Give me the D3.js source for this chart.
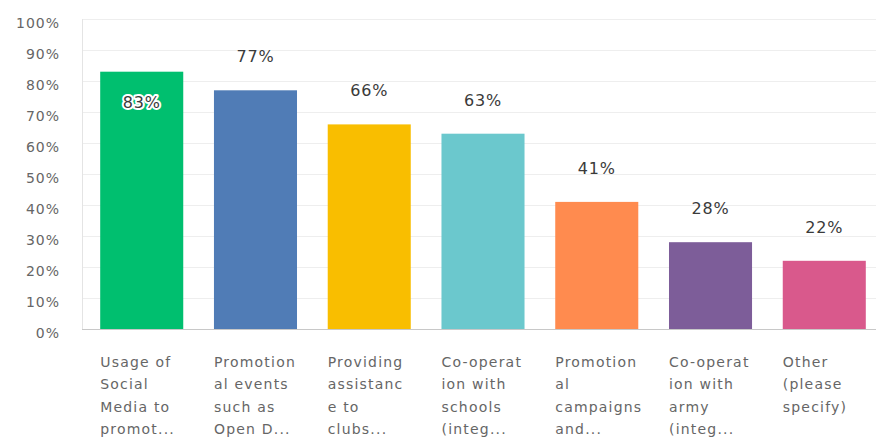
<!DOCTYPE html>
<html>
<head>
<meta charset="utf-8">
<script src="https://cdn.jsdelivr.net/npm/d3@7"></script>
<style>
  html, body { margin: 0; padding: 0; background: #fff; }
  svg { display: block; font-family: "DejaVu Sans", sans-serif; }
</style>
</head>
<body>
<svg id="chart" width="876" height="439"></svg>
<script>
// Answer choices (pre-wrapped, truncated as in the survey export)
const categories = [
  ["Usage of", "Social", "Media to", "promot..."],
  ["Promotion", "al events", "such as", "Open D..."],
  ["Providing", "assistanc", "e to", "clubs..."],
  ["Co-operat", "ion with", "schools", "(integ..."],
  ["Promotion", "al", "campaigns", "and..."],
  ["Co-operat", "ion with", "army", "(integ..."],
  ["Other", "(please", "specify)"]
];
const values = [83, 77, 66, 63, 41, 28, 22];
const colors = ["#00BF6F", "#507CB6", "#F9BE00", "#6BC8CD", "#FF8B4F", "#7D5D99", "#D9598C"];
const yTicks = [0, 10, 20, 30, 40, 50, 60, 70, 80, 90, 100];

const svg = d3.select("#chart");
const plotLeft = 82, plotRight = 884, plotTop = 19, plotBottom = 329;

const x = d3.scaleBand()
  .domain(d3.range(values.length))
  .range([plotLeft, plotRight])
  .paddingInner(0.27)
  .paddingOuter(0.16);

const y = d3.scaleLinear().domain([0, 100]).range([plotBottom, plotTop]);

// Horizontal gridlines
svg.append("g")
  .selectAll("line")
  .data(yTicks.filter(t => t > 0))
  .join("line")
  .attr("x1", plotLeft).attr("x2", 876)
  .attr("y1", d => y(d) + 0.5).attr("y2", d => y(d) + 0.5)
  .attr("stroke", "#eeeeee")
  .attr("stroke-width", 1);

// Left axis line
svg.append("line")
  .attr("x1", plotLeft + 0.5).attr("x2", plotLeft + 0.5)
  .attr("y1", plotTop).attr("y2", plotBottom)
  .attr("stroke", "#e4e4e4");

// Y tick labels
const yAxis = d3.axisLeft(y)
  .tickValues(yTicks)
  .tickFormat(d => d + "%")
  .tickSize(0)
  .tickPadding(0);

const yg = svg.append("g")
  .attr("transform", `translate(60,0)`)
  .call(yAxis);
yg.select(".domain").remove();
yg.selectAll("text")
  .attr("dy", "0.62em")
  .attr("fill", "#666666")
  .style("font-size", "14px")
  .style("letter-spacing", "1px")
  .style("font-family", "DejaVu Sans, sans-serif");

// Bars
svg.append("g")
  .selectAll("rect")
  .data(values)
  .join("rect")
  .attr("x", (d, i) => x(i))
  .attr("width", x.bandwidth())
  .attr("y", d => y(d))
  .attr("height", d => y(0) - y(d))
  .attr("fill", (d, i) => colors[i]);

// Baseline
svg.append("line")
  .attr("x1", plotLeft).attr("x2", 876)
  .attr("y1", plotBottom + 0.5).attr("y2", plotBottom + 0.5)
  .attr("stroke", "#c8c8c8");

// Value labels: inside the bar when it is near the top, otherwise above it
svg.append("g")
  .selectAll("text")
  .data(values)
  .join("text")
  .attr("x", (d, i) => x(i) + x.bandwidth() / 2)
  .attr("y", d => d >= 80 ? y(d) + 36 : y(d) - 28)
  .attr("text-anchor", "middle")
  .attr("fill", "#3a3a3a")
  .attr("stroke", d => d >= 80 ? "#ffffff" : "none")
  .attr("stroke-width", 4)
  .attr("stroke-linejoin", "round")
  .style("paint-order", "stroke")
  .style("font-size", "16px")
  .style("letter-spacing", "0.8px")
  .text(d => d + "%");

// Category labels, left-aligned under each bar
const labels = svg.append("g")
  .selectAll("text")
  .data(categories)
  .join("text")
  .attr("x", (d, i) => x(i))
  .attr("y", 367)
  .attr("fill", "#666666")
  .style("font-size", "14px")
  .style("letter-spacing", "1.2px");

labels.selectAll("tspan")
  .data(d => d)
  .join("tspan")
  .attr("x", function() { return d3.select(this.parentNode).attr("x"); })
  .attr("dy", (d, j) => j === 0 ? 0 : 22.3)
  .text(d => d);
</script>
</body>
</html>
